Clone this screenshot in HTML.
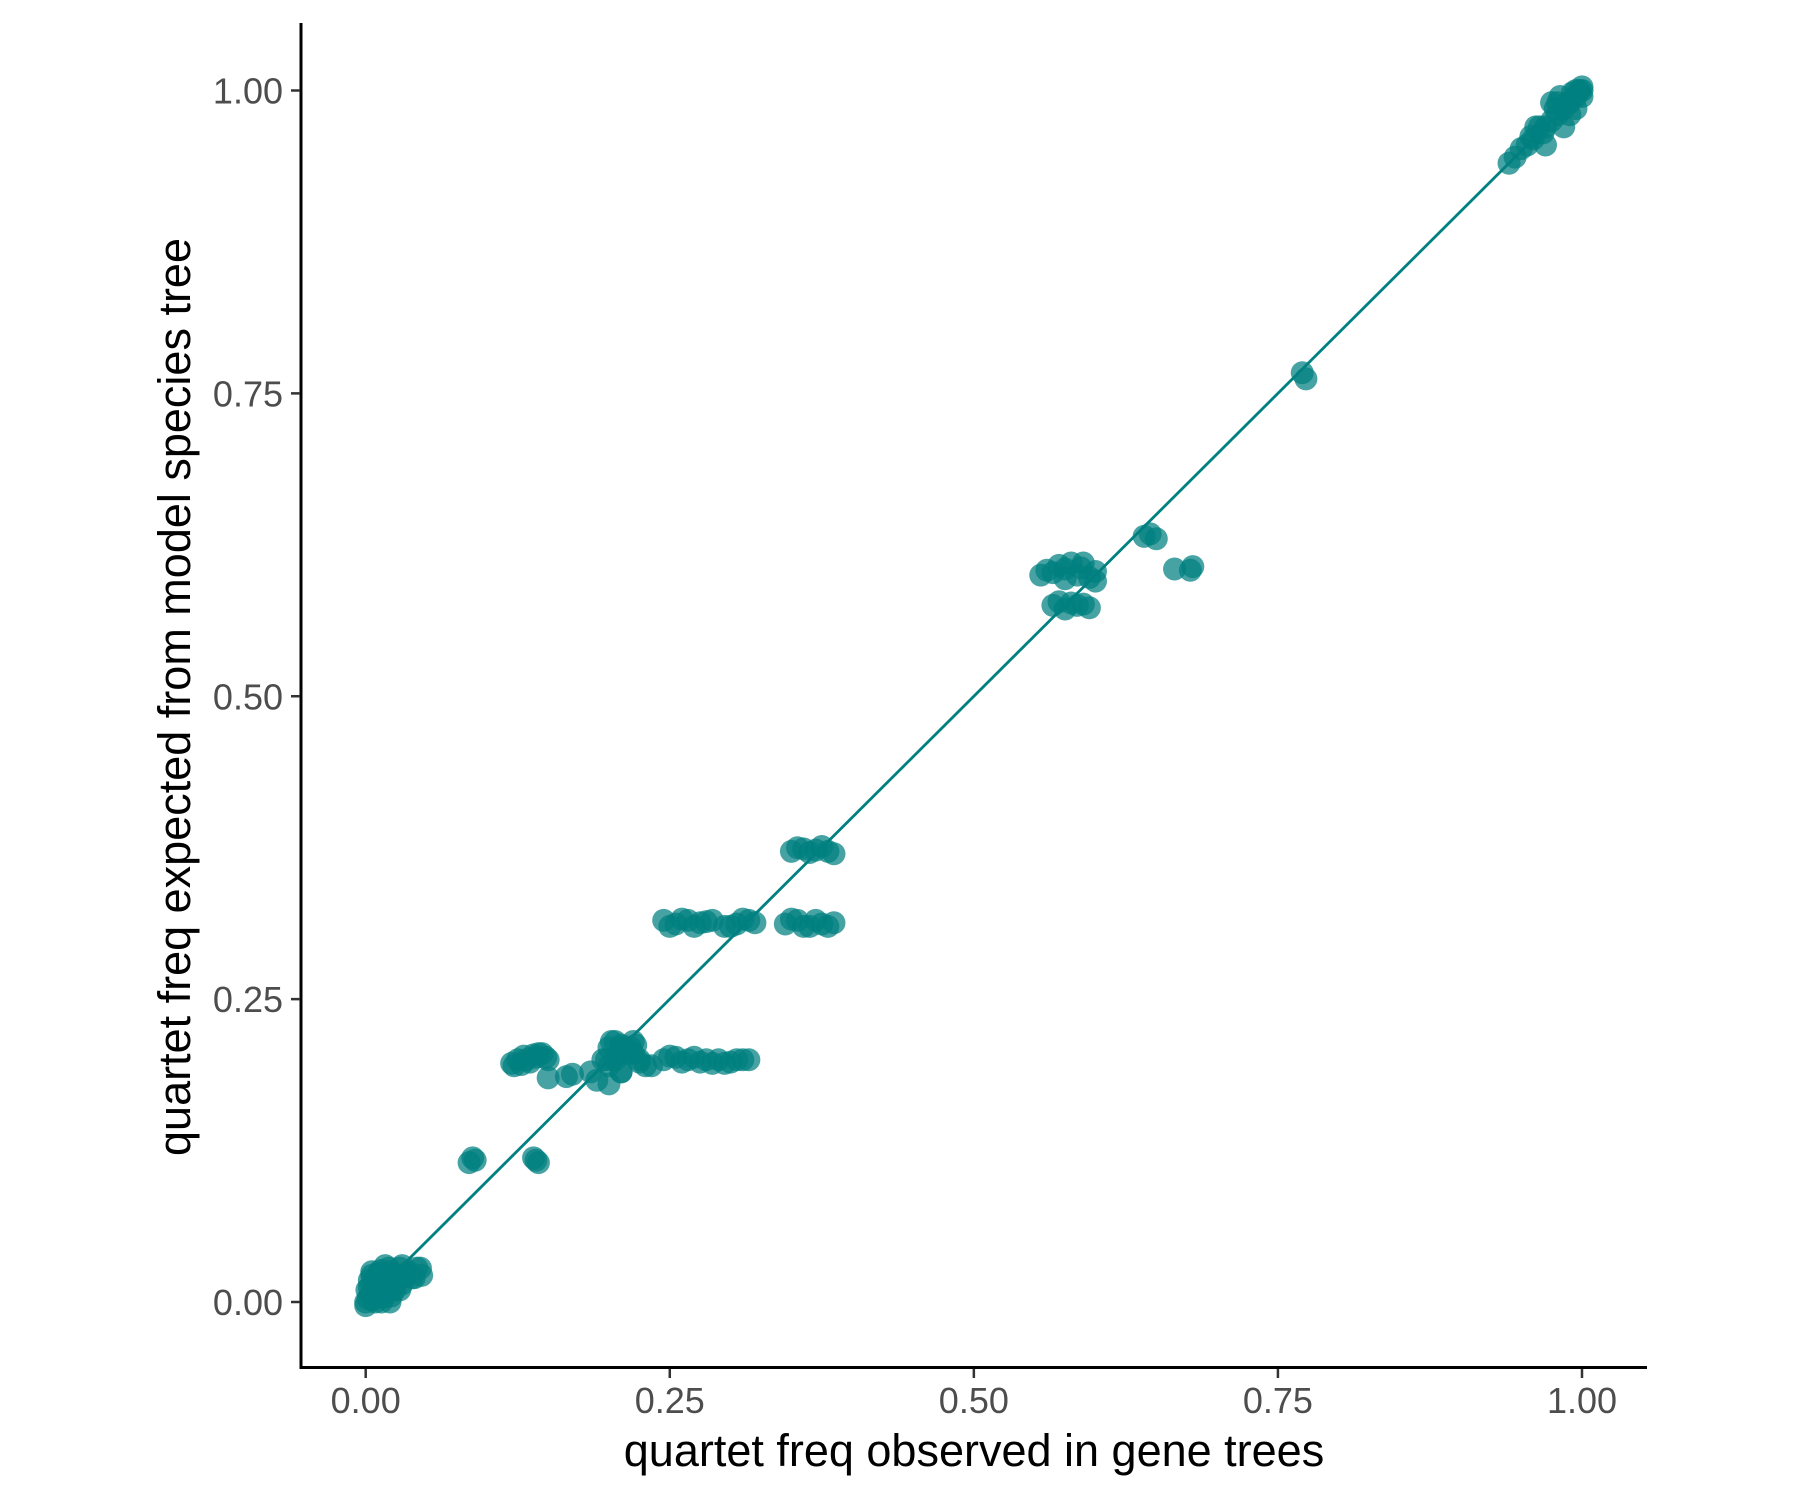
<!DOCTYPE html>
<html><head><meta charset="utf-8"><style>
body{margin:0;background:#fff}
svg{display:block;font-family:"Liberation Sans",sans-serif}
</style></head><body>
<svg id="chart" width="1800" height="1500" viewBox="0 0 1800 1500">
<g id="axes"></g>
<line id="refline" stroke="#008080" stroke-width="2.8"/>
<g id="pts"></g>
<text x="974" y="1466" text-anchor="middle" font-size="45" fill="#000">quartet freq observed in gene trees</text>
<text transform="translate(190,697) rotate(-90)" text-anchor="middle" font-size="45" fill="#000">quartet freq expected from model species tree</text>
</svg>
<script>
const tickValues=[0,0.25,0.5,0.75,1];
const tickLabels=["0.00","0.25","0.50","0.75","1.00"];
const obsX=[0,0.002,0.004,0.006,0.008,0.01,0.012,0.014,0.016,0.018,0.02,0.022,0.025,0.028,0.03,0.035,0.04,0.045,0.003,0.007,0.011,0.015,0.019,0.024,0.005,0.013,0.021,0.03,0.0,0.001,0.003,0.005,0.008,0.012,0.016,0.02,0.024,0.028,0.033,0.038,0.042,0.046,0.01,0.018,
0.09,0.085,0.088,0.14,0.142,0.138,
0.12,0.125,0.13,0.135,0.14,0.145,0.15,0.128,0.138,0.122,0.132,0.142,0.148,
0.15,0.17,0.19,0.2,0.21,0.195,0.165,0.185,
0.2,0.205,0.21,0.215,0.22,0.225,0.23,0.2,0.21,0.22,0.205,0.215,0.225,0.235,0.202,0.212,0.218,0.208,0.222,0.198,
0.245,0.255,0.265,0.275,0.29,0.3,0.31,0.285,0.305,0.25,0.26,0.28,0.295,0.315,0.27,
0.245,0.255,0.265,0.275,0.285,0.295,0.305,0.315,0.32,0.25,0.26,0.27,0.28,0.3,0.31,
0.345,0.355,0.365,0.375,0.385,0.36,0.35,0.37,0.38,
0.35,0.36,0.37,0.38,0.385,0.355,0.365,0.375,
0.555,0.565,0.575,0.585,0.595,0.6,0.57,0.59,0.56,0.58,0.6,0.575,0.588,
0.565,0.575,0.585,0.595,0.57,0.58,0.59,
0.64,0.65,0.645,0.665,0.68,0.678,
0.77,0.773,
0.94,0.945,0.95,0.955,0.96,0.965,0.97,0.975,0.98,0.985,0.99,0.995,1,0.97,0.98,0.99,1,0.985,0.995,0.958,0.968,0.978,0.988,0.998,0.975,0.992,0.962,0.982,0.995,1.0];
const expY=[0,0.003,0.006,0.002,0.01,0.005,0.015,0.008,0.02,0.012,0.025,0.018,0.022,0.028,0.03,0.025,0.02,0.028,0.012,0.018,0.024,0.004,0.028,0.01,0.022,0.0,0.005,0.015,-0.003,0.01,0.018,0.025,0.0,0.026,0.03,0.0,0.015,0.01,0.022,0.02,0.028,0.022,0.02,0.01,
0.117,0.115,0.119,0.117,0.115,0.119,
0.197,0.2,0.203,0.198,0.202,0.205,0.2,0.196,0.204,0.195,0.2,0.205,0.202,
0.185,0.188,0.183,0.18,0.19,0.2,0.186,0.19,
0.21,0.215,0.212,0.208,0.215,0.2,0.195,0.195,0.19,0.205,0.2,0.205,0.198,0.195,0.215,0.21,0.21,0.205,0.212,0.2,
0.2,0.202,0.2,0.198,0.2,0.198,0.2,0.197,0.2,0.203,0.198,0.2,0.197,0.2,0.202,
0.315,0.312,0.315,0.313,0.315,0.31,0.312,0.315,0.313,0.31,0.316,0.31,0.314,0.31,0.316,
0.312,0.315,0.31,0.312,0.313,0.31,0.316,0.315,0.31,
0.372,0.374,0.373,0.372,0.37,0.375,0.371,0.376,
0.6,0.602,0.605,0.6,0.598,0.595,0.608,0.61,0.604,0.61,0.603,0.597,0.606,
0.575,0.572,0.575,0.573,0.578,0.577,0.576,
0.632,0.63,0.634,0.605,0.607,0.604,
0.767,0.762,
0.94,0.945,0.952,0.955,0.96,0.97,0.97,0.975,0.98,0.985,0.99,0.995,1,0.955,0.99,0.98,0.995,0.97,1,0.962,0.965,0.985,0.99,1.0,0.99,0.998,0.97,0.995,0.985,1.003];
const X=v=>365.7+v*1216.3, Y=v=>1302-v*1211.5;
const NS="http://www.w3.org/2000/svg";
const axes=document.getElementById('axes');
function mk(tag,attrs,parent){const e=document.createElementNS(NS,tag);for(const k in attrs)e.setAttribute(k,attrs[k]);parent.appendChild(e);return e;}
let l=mk('line',{x1:301,y1:23,x2:301,y2:1369,stroke:'#000','stroke-width':3},axes);


l=mk('line',{x1:299.5,y1:1367.5,x2:1647,y2:1367.5,stroke:'#000','stroke-width':3},axes);


tickValues.forEach((v,i)=>{
 let t=mk('line',{x1:X(v),y1:1369,x2:X(v),y2:1378,stroke:'#333','stroke-width':2.5},axes);
 
 
 let tx=mk('text',{x:X(v),y:1413,'text-anchor':'middle','font-size':36,fill:'#4d4d4d'},axes);
 tx.textContent=tickLabels[i];
 
 
 t=mk('line',{x1:291,y1:Y(v),x2:300,y2:Y(v),stroke:'#333','stroke-width':2.5},axes);
 
 
 tx=mk('text',{x:283,y:Y(v)+13,'text-anchor':'end','font-size':36,fill:'#4d4d4d'},axes);
 tx.textContent=tickLabels[i];
 
 
});
const rl=document.getElementById('refline');
rl.setAttribute('x1',X(0.02));rl.setAttribute('y1',Y(0.02));rl.setAttribute('x2',X(1));rl.setAttribute('y2',Y(1));
const pts=document.getElementById('pts');
obsX.forEach((v,i)=>{
 const c=mk('circle',{cx:X(v),cy:Y(expY[i]),r:11.5,fill:'#008080','fill-opacity':0.72},pts);
 
 
});
</script>
</body></html>
